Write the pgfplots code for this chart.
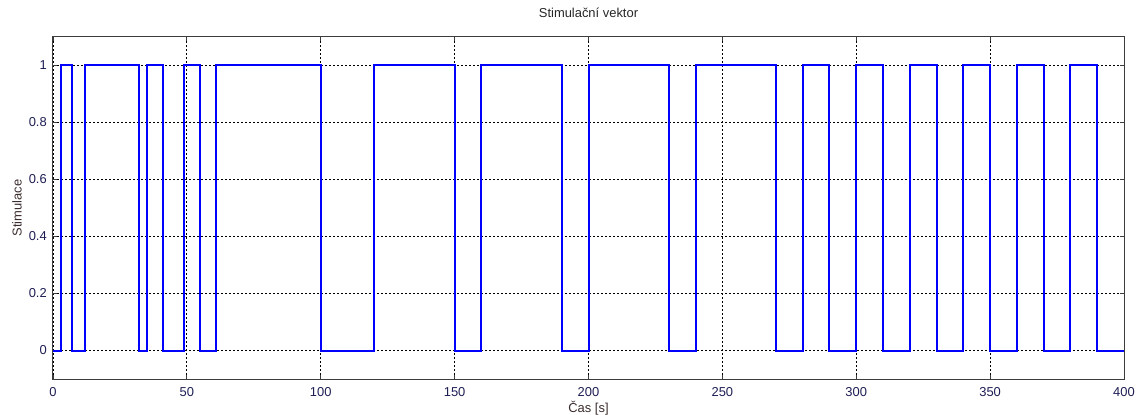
\documentclass[border=0pt]{standalone}
\usepackage{pgfplots}
\pgfplotsset{compat=1.18}
\usepackage{fontspec}
\setmainfont{Liberation Sans}

\definecolor{stimblue}{RGB}{0,0,255}
\definecolor{ticktext}{RGB}{30,30,85}
\definecolor{labeltext}{RGB}{60,45,45}
\definecolor{frame}{RGB}{60,60,60}

\begin{document}
\begin{tikzpicture}
\begin{axis}[
  scale only axis,
  width=803.25pt, height=256.5pt,
  xmin=0, xmax=400, ymin=-0.1, ymax=1.1,
  xtick={0,50,100,150,200,250,300,350,400},
  ytick={0,0.2,0.4,0.6,0.8,1},
  yticklabels={0,0.2,0.4,0.6,0.8,1},
  /pgf/number format/assume math mode=true,
  font=\fontsize{9.7}{11}\selectfont,
  tick align=inside,
  major tick length=3pt,
  tick style={frame, line width=0.6pt},
  axis line style={frame, line width=0.75pt},
  grid=major,
  major grid style={black, line width=0.6pt, dash pattern=on 1.5pt off 1.5pt},
  xticklabel style={text=ticktext, inner sep=0pt, anchor=north, yshift=-6.4pt},
  yticklabel style={text=ticktext, inner sep=0pt, anchor=east, xshift=-4.5pt},
  title={Stimulační vektor},
  title style={text=black!85, at={(axis description cs:0.5,1)}, anchor=center, yshift=12pt, inner sep=0pt},
  xlabel={Čas [s]},
  xlabel style={text=labeltext, at={(axis description cs:0.5,0)}, anchor=center, yshift=-21.75pt, inner sep=0pt},
  ylabel={Stimulace},
  ylabel style={text=labeltext, at={(axis description cs:-0.0336,0.5)}, anchor=center, inner sep=0pt},
]
% switching instants of the stimulation vector: value holds until the next time
\addplot[const plot mark left, stimblue, line width=1.5pt] table {
t    s
0    0
3    1
7    0
12   1
32   0
35   1
41   0
49   1
55   0
61   1
100  0
120  1
150  0
160  1
190  0
200  1
230  0
240  1
270  0
280  1
290  0
300  1
310  0
320  1
330  0
340  1
350  0
360  1
370  0
380  1
390  0
400  0
};
\coordinate (sw) at (rel axis cs:0,0);
\coordinate (ne) at (rel axis cs:1,1);
\end{axis}
\pgfresetboundingbox
\path[use as bounding box] ([xshift=-39.75pt,yshift=-26.25pt]sw) rectangle ([xshift=9pt,yshift=27.75pt]ne);
\end{tikzpicture}
\end{document}
